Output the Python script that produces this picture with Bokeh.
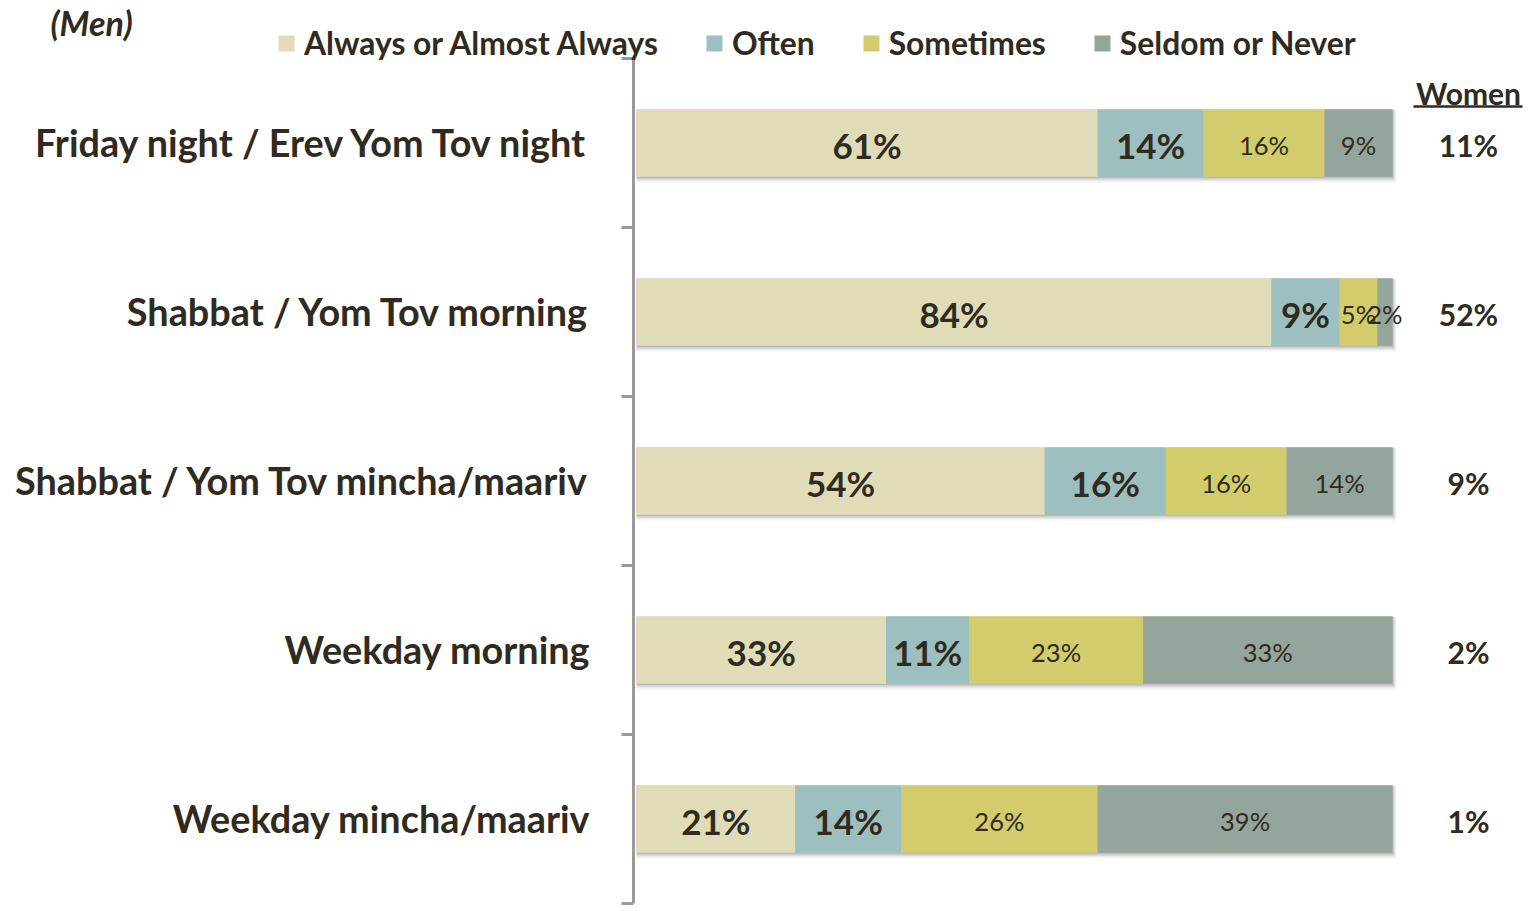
from bokeh.plotting import figure
from bokeh.models import ColumnDataSource, Range1d, Legend, LegendItem, Label
from bokeh.core.properties import value
from bokeh.embed import file_html
from bokeh.resources import INLINE

categories = ["Friday night / Erev Yom Tov night",
              "Shabbat / Yom Tov morning",
              "Shabbat / Yom Tov mincha/maariv",
              "Weekday morning",
              "Weekday mincha/maariv"]
always = [61, 84, 54, 33, 21]
often = [14, 9, 16, 11, 14]
sometimes = [16, 5, 16, 23, 26]
seldom = [9, 2, 14, 33, 39]
women = [11, 52, 9, 2, 1]
series_names = ["Always or Almost Always", "Often", "Sometimes", "Seldom or Never"]
colors = ["#DFDCB7", "#9DBFBF", "#D3CC6C", "#94A59C"]

FONT = "Lato"
TXT = "#2F2B20"
W, H = 1525, 905
PX = 7.56           # pixels per percent
X0 = 636            # canvas px of 0 %
ROW = 169.0
Y0 = 58             # canvas px of first band boundary

p = figure(width=W, height=H,
           x_range=Range1d(-X0 / PX, (W - X0) / PX),
           y_range=Range1d((H - Y0) / ROW, -Y0 / ROW),
           output_backend="svg", toolbar_location=None, min_border=0,
           x_axis_location=None, y_axis_location=None)
p.grid.visible = False
p.outline_line_color = None
p.background_fill_color = "white"
p.border_fill_color = "white"

n = len(categories)
ypos = [i + 0.5 for i in range(n)]
totals = [a + b + c + d for a, b, c, d in zip(always, often, sometimes, seldom)]
BAR_H = 0.40

# soft shadow
for k, a in [(1, 0.22), (2, 0.15), (3, 0.09), (4, 0.05)]:
    p.hbar(y=[y + k * 0.9 / ROW for y in ypos], left=[0] * n,
           right=[t + k * 1.0 / PX for t in totals],
           height=BAR_H + 2 * k * 0.6 / ROW,
           fill_color="#666666", fill_alpha=a, line_color=None)

src = ColumnDataSource(dict(y=ypos, always=always, often=often,
                            sometimes=sometimes, seldom=seldom))
keys = ["always", "often", "sometimes", "seldom"]
rs = p.hbar_stack(keys, y="y", height=BAR_H, color=colors, source=src,
                  line_color=None)

# segment labels
series = [always, often, sometimes, seldom]
left = [0] * n
for si, vals in enumerate(series):
    centers = [l + v / 2 for l, v in zip(left, vals)]
    left = [l + v for l, v in zip(left, vals)]
    bold = si < 2
    p.text(x=centers, y=[y + 1.5 / ROW for y in ypos],
           text=[f"{v}%" for v in vals],
           text_align="center", text_baseline="middle",
           text_font=value(FONT),
           text_font_style="bold" if bold else "normal",
           text_font_size="35px" if bold else "25.5px",
           text_color=TXT)

# category labels
p.text(x=[0] * n, y=[y - 1 / ROW for y in ypos], text=categories, x_offset=-46,
       text_align="right", text_baseline="middle",
       text_font=value(FONT), text_font_style="bold",
       text_font_size="37.8px", text_color=TXT)

# women column
WX = (1468 - X0) / PX
p.text(x=[WX] * n, y=[y + 2 / ROW for y in ypos], text=[f"{v}%" for v in women],
       text_align="center", text_baseline="middle",
       text_font=value(FONT), text_font_style="bold",
       text_font_size="30px", text_color=TXT)
WY = (92 - Y0) / ROW
p.add_layout(Label(x=WX, y=WY, text="Women",
                   text_align="center", text_baseline="middle",
                   text_font=FONT, text_font_style="bold",
                   text_font_size="30px", text_color=TXT))
p.segment(x0=[(1413 - X0) / PX], x1=[(1522 - X0) / PX],
          y0=[WY + 14 / ROW], y1=[WY + 14 / ROW],
          line_color=TXT, line_width=2.5)

# y axis drawn with glyphs
AX = -3 / PX
bounds = list(range(n + 1))
p.segment(x0=[AX], x1=[AX], y0=[0], y1=[n], line_color="#9A9A9A", line_width=3)
p.segment(x0=[AX - 12 / PX] * len(bounds), x1=[AX] * len(bounds),
          y0=bounds, y1=bounds, line_color="#9A9A9A", line_width=3)

# title
p.add_layout(Label(x=50, y=H - 22, x_units="screen", y_units="screen",
                   text="(Men)", text_baseline="middle",
                   text_font=FONT, text_font_style="bold italic",
                   text_font_size="34px", text_color=TXT))

legend = Legend(items=[LegendItem(label=nm, renderers=[r]) for nm, r in zip(series_names, rs)],
                orientation="horizontal", location=(276, H - 62),
                glyph_width=20, glyph_height=20, label_standoff=8, spacing=46,
                padding=0, margin=0, border_line_color=None,
                background_fill_alpha=0,
                label_text_font=FONT, label_text_font_style="bold",
                label_text_font_size="31.8px", label_text_color=TXT)
p.add_layout(legend)

open("out.html", "w").write(file_html(p, INLINE))
